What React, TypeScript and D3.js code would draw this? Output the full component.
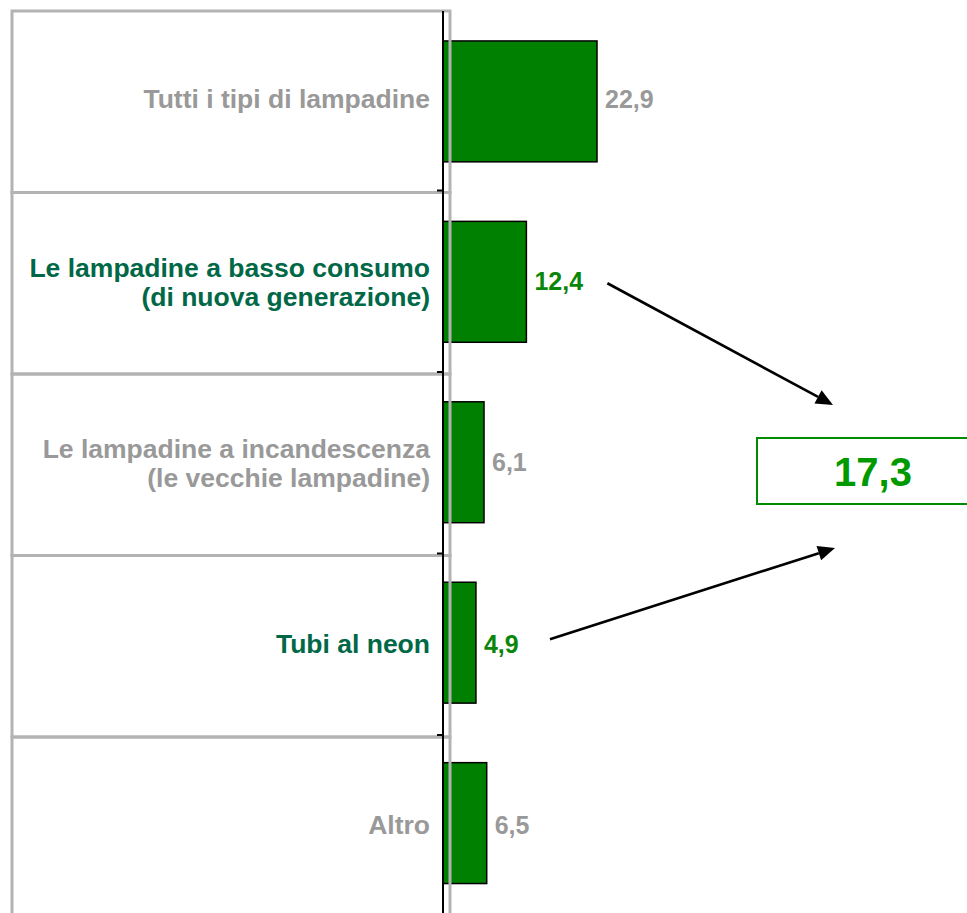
import React from "react";
import * as d3 from "d3";

const categories = [
  ["Tutti i tipi di lampadine"],
  ["Le lampadine a basso consumo", "(di nuova generazione)"],
  ["Le lampadine a incandescenza", "(le vecchie lampadine)"],
  ["Tubi al neon"],
  ["Altro"],
];
const values = [22.9, 12.4, 6.1, 4.9, 6.5];
const valueLabels = ["22,9", "12,4", "6,1", "4,9", "6,5"];
const highlighted = [false, true, false, true, false];
const totalLabel = "17,3";

const W = 967;
const H = 913;
const FONT = "'Liberation Sans', Arial, sans-serif";

export default function App() {
  const keys = categories.map((_, i) => String(i));
  const top = 11;
  const barStep = 180.5;
  const boxStep = 181.5;
  const y = d3
    .scaleBand<string>()
    .domain(keys)
    .range([top, top + barStep * keys.length])
    .paddingInner(0.33)
    .paddingOuter(0.166);
  const yRow = d3
    .scaleBand<string>()
    .domain(keys)
    .range([top, top + boxStep * keys.length]);
  const x = d3.scaleLinear().domain([0, 22.9]).range([443, 597]);
  const x0 = x(0);
  const boxLeft = 12;
  const boxRight = 450;

  const rowCenter = (i: number) => (yRow(String(i)) as number) + yRow.bandwidth() / 2;

  const rb = { x: 757, y: 438, w: 220, h: 66 };
  const rbCx = 873;

  const arrow = (x1: number, y1: number, x2: number, y2: number, key: string) => {
    const ang = Math.atan2(y2 - y1, x2 - x1);
    const L = 17;
    const hw = 7.5;
    const bx = x2 - L * Math.cos(ang);
    const by = y2 - L * Math.sin(ang);
    const px = -Math.sin(ang) * hw;
    const py = Math.cos(ang) * hw;
    const pts = `${x2},${y2} ${bx + px},${by + py} ${bx - px},${by - py}`;
    return (
      <g key={key}>
        <line x1={x1} y1={y1} x2={bx} y2={by} stroke="#000" strokeWidth={2.6} />
        <polygon points={pts} fill="#000" />
      </g>
    );
  };

  const a1Start = { x: x(values[1]) + 81, y: rowCenter(1) };
  const a2Start = { x: x(values[3]) + 74, y: rowCenter(3) - 7 };

  return (
    <svg
      width={W}
      height={H}
      style={{ position: "absolute", left: 0, top: 0, background: "#fff" }}
      fontFamily={FONT}
    >
      <rect x={0} y={0} width={W} height={H} fill="#fff" />
      {values.map((v, i) => (
        <rect
          key={"b" + i}
          x={x0}
          y={y(String(i))}
          width={x(v) - x0}
          height={y.bandwidth()}
          fill="#008000"
          stroke="#000"
          strokeWidth={1.5}
        />
      ))}
      {keys.map((k) => (
        <rect
          key={"g" + k}
          x={boxLeft}
          y={yRow(k)}
          width={boxRight - boxLeft}
          height={yRow.bandwidth()}
          fill="none"
          stroke="#b3b3b3"
          strokeWidth={3}
        />
      ))}
      <line x1={x0} y1={top} x2={x0} y2={H} stroke="#000" strokeWidth={2} />
      {keys.slice(1).map((k) => (
        <line
          key={"t" + k}
          x1={x0 - 6}
          x2={x0}
          y1={(yRow(k) as number) - 2}
          y2={(yRow(k) as number) - 2}
          stroke="#000"
          strokeWidth={2}
        />
      ))}
      {categories.map((lines, i) => {
        const c = rowCenter(i);
        const n = lines.length;
        const base = n === 1 ? c + 6.5 : c - 6.5;
        return (
          <text
            key={"l" + i}
            x={430}
            textAnchor="end"
            fontSize={26.5}
            fontWeight="bold"
            fill={highlighted[i] ? "#006847" : "#999999"}
          >
            {lines.map((t, j) => (
              <tspan key={j} x={430} y={base + j * 29}>
                {t}
              </tspan>
            ))}
          </text>
        );
      })}
      {values.map((v, i) => (
        <text
          key={"v" + i}
          x={x(v) + 8}
          y={rowCenter(i) + 6.5}
          fontSize={25}
          fontWeight="bold"
          fill={highlighted[i] ? "#0a870a" : "#999999"}
        >
          {valueLabels[i]}
        </text>
      ))}
      {arrow(a1Start.x, a1Start.y, 833, rb.y - 33, "a1")}
      {arrow(a2Start.x, a2Start.y, 835, rb.y + rb.h + 44, "a2")}
      <rect x={rb.x} y={rb.y} width={rb.w} height={rb.h} fill="#fff" stroke="#008c00" strokeWidth={2} />
      <text
        x={rbCx}
        y={rb.y + rb.h / 2 + 15}
        textAnchor="middle"
        fontSize={40}
        fontWeight="bold"
        fill="#009900"
      >
        {totalLabel}
      </text>
    </svg>
  );
}
